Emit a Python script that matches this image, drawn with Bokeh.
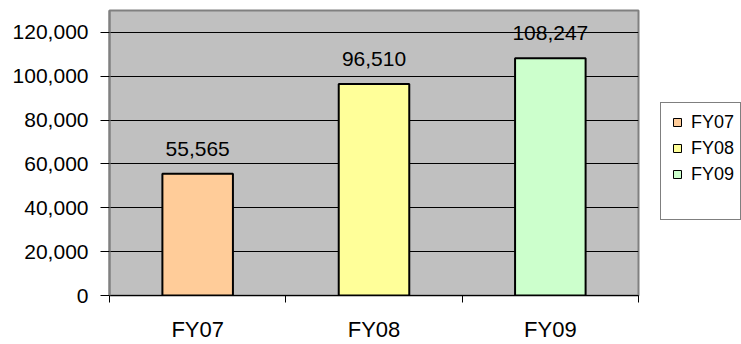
from bokeh.plotting import figure
from bokeh.layouts import row
from bokeh.models import (ColumnDataSource, FixedTicker, NumeralTickFormatter,
                          Range1d, Legend, LegendItem)
from bokeh.core.properties import value
from bokeh.embed import file_html
from bokeh.resources import INLINE

categories = ["FY07", "FY08", "FY09"]
values = [55565, 96510, 108247]
colors = ["#FFCC99", "#FFFF99", "#CCFFCC"]
y_ticks = [0, 20000, 40000, 60000, 80000, 100000, 120000]

xpos = [i + 0.5 for i in range(len(categories))]
labels = [f"{v:,}" for v in values]

src = ColumnDataSource(dict(x=xpos, top=values, color=colors, cat=categories, label=labels))

FONT = "Liberation Sans"

p = figure(width=640, height=344, output_backend="svg", toolbar_location=None,
           x_range=Range1d(0, len(categories)), y_range=Range1d(0, 130000),
           min_border_left=109, min_border_right=2, min_border_top=10,
           min_border_bottom=48)

p.background_fill_color = "#C0C0C0"
p.border_fill_color = "white"
p.outline_line_color = "#808080"
p.outline_line_width = 2

r = p.vbar(x="x", top="top", width=0.4, bottom=0, source=src,
           fill_color="color", line_color="black", line_width=2)

p.text(x="x", y="top", text="label", source=src, text_align="center",
       text_baseline="alphabetic", y_offset=-25, text_font=value(FONT),
       text_font_size="21px", text_color="black")

# x axis
p.xaxis.ticker = FixedTicker(ticks=xpos, minor_ticks=list(range(len(categories) + 1)))
p.xaxis.major_label_overrides = {x: c for x, c in zip(xpos, categories)}
p.xaxis.major_tick_line_color = None
p.xaxis.minor_tick_line_color = "black"
p.xaxis.minor_tick_out = 7
p.xaxis.minor_tick_in = 0
p.xaxis.axis_line_color = "black"
p.xaxis.major_label_text_font = FONT
p.xaxis.major_label_text_font_size = "22px"
p.xaxis.major_label_text_line_height = 1.0
p.xaxis.major_label_text_color = "black"
p.xaxis.major_label_standoff = 14

# y axis
p.yaxis.ticker = FixedTicker(ticks=y_ticks)
p.yaxis.formatter = NumeralTickFormatter(format="0,0")
p.yaxis.minor_tick_line_color = None
p.yaxis.major_tick_out = 9
p.yaxis.major_tick_in = 0
p.yaxis.major_tick_line_color = "black"
p.yaxis.axis_line_color = "#808080"
p.yaxis.axis_line_width = 2
p.yaxis.major_label_text_font = FONT
p.yaxis.major_label_text_font_size = "21px"
p.yaxis.major_label_text_color = "black"
p.yaxis.major_label_standoff = 12

p.xgrid.grid_line_color = None
p.ygrid.ticker = FixedTicker(ticks=y_ticks)
p.ygrid.grid_line_color = "black"
p.ygrid.grid_line_width = 1

# legend panel to the right of the plot
p2 = figure(width=101, height=344, output_backend="svg", toolbar_location=None,
            x_range=Range1d(0, 1), y_range=Range1d(0, 1),
            x_axis_type=None, y_axis_type=None,
            min_border_left=0, min_border_right=0, min_border_top=0,
            min_border_bottom=0)
p2.outline_line_color = None
p2.grid.grid_line_color = None
p2.background_fill_color = "white"
p2.border_fill_color = "white"

r_leg = p2.scatter(x="x", y="top", source=src, marker="square",
                   fill_color="color", line_color="black", line_width=1,
                   visible=False)
r_blank = p2.scatter(x="x", y="top", source=src, marker="square",
                     fill_alpha=0, line_alpha=0, visible=False)

items = [LegendItem(label=c, renderers=[r_leg], index=i) for i, c in enumerate(categories)]
items.append(LegendItem(label=" ", renderers=[r_blank], index=0))
legend = Legend(items=items, location=(20, 75), orientation="vertical",
                glyph_width=20, glyph_height=26, label_standoff=4,
                label_text_font=FONT, label_text_font_size="18px",
                label_text_color="black",
                label_height=26, spacing=0, padding=6, margin=0,
                border_line_color="black", border_line_width=1,
                background_fill_color="white", background_fill_alpha=1,
                inactive_fill_alpha=0)
p2.add_layout(legend, "center")

layout = row(p, p2, spacing=0)
open("out.html", "w").write(file_html(layout, INLINE))
